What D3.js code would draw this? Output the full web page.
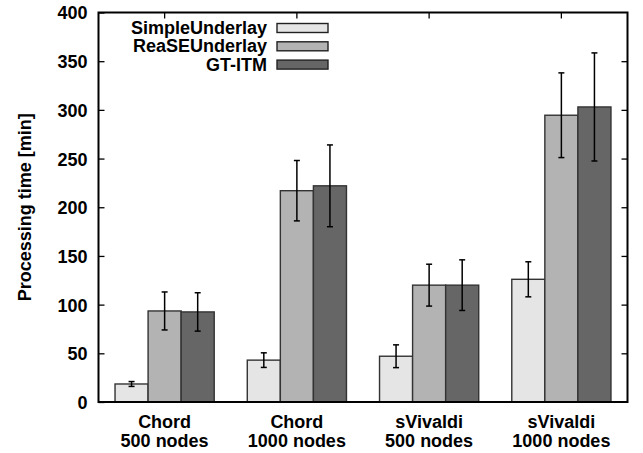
<!DOCTYPE html>
<html>
<head>
<meta charset="utf-8">
<script src="https://cdn.jsdelivr.net/npm/d3@7"></script>
<style>
  body { margin: 0; background: #fff; }
  text { font-family: "Liberation Sans", Arial, Helvetica, sans-serif; font-weight: bold; }
</style>
</head>
<body>
<div class="chart"></div>
<script>

// categories, two lines per label
var categories = ["Chord 500", "Chord 1000", "sVivaldi 500", "sVivaldi 1000"];
var catLine1 = ["Chord", "Chord", "sVivaldi", "sVivaldi"];
var catLine2 = ["500 nodes", "1000 nodes", "500 nodes", "1000 nodes"];

var seriesNames = ["SimpleUnderlay", "ReaSEUnderlay", "GT-ITM"];
var seriesColors = ["#e5e5e5", "#b3b3b3", "#666666"];

// mean processing time [min] and error (+/-)
var simpleVals = [18.5, 43, 47, 126];
var simpleErr = [2.5, 7.5, 11.7, 18];
var reaseVals = [93.5, 217, 120, 294.5];
var reaseErr = [19.5, 31, 21.5, 43.5];
var gtitmVals = [92.5, 222, 120, 303];
var gtitmErr = [19.7, 42, 26, 55.5];

var yTicks = [0, 50, 100, 150, 200, 250, 300, 350, 400];

var allVals = [simpleVals, reaseVals, gtitmVals];
var allErr = [simpleErr, reaseErr, gtitmErr];

var div_width = 643;
var div_height = 453;
var pLeft = 98.5, pRight = 627.5, pTop = 12.5, pBottom = 402;

var svg = d3.select(".chart").append("svg")
    .attr("width", div_width)
    .attr("height", div_height);

var x = d3.scaleBand()
    .domain(categories)
    .range([pLeft, pRight])
    .paddingInner(0.25)
    .paddingOuter(0.125);

var xs = d3.scaleBand()
    .domain(seriesNames)
    .range([0, x.bandwidth()]);

var y = d3.scaleLinear()
    .domain([0, 400])
    .range([pBottom, pTop]);

// bars
for (var s = 0; s < seriesNames.length; s++) {
    var vals = allVals[s];
    var errs = allErr[s];
    svg.append("g").selectAll("rect")
        .data(vals)
        .enter().append("rect")
        .attr("x", function (d, i) { return x(categories[i]) + xs(seriesNames[s]); })
        .attr("y", function (d) { return y(d); })
        .attr("width", xs.bandwidth())
        .attr("height", function (d) { return y(0) - y(d); })
        .attr("fill", seriesColors[s])
        .attr("stroke", "#333")
        .attr("stroke-width", 1.4);

    var eb = svg.append("g").attr("stroke", "#000").attr("stroke-width", 1.5);
    for (var i = 0; i < vals.length; i++) {
        var cx = x(categories[i]) + xs(seriesNames[s]) + xs.bandwidth() / 2;
        var hi = y(vals[i] + errs[i]);
        var lo = y(vals[i] - errs[i]);
        eb.append("line").attr("x1", cx).attr("x2", cx).attr("y1", hi).attr("y2", lo);
        eb.append("line").attr("x1", cx - 3).attr("x2", cx + 3).attr("y1", hi).attr("y2", hi);
        eb.append("line").attr("x1", cx - 3).attr("x2", cx + 3).attr("y1", lo).attr("y2", lo);
    }
}

// y axis left and mirrored on the right
var yAxis = d3.axisLeft(y).tickValues(yTicks).tickSize(-6).tickPadding(11);
var gy = svg.append("g").attr("transform", "translate(" + pLeft + ",0)").call(yAxis);
gy.select(".domain").remove();
gy.selectAll("line").attr("stroke", "#000").attr("stroke-width", 1.3);
gy.selectAll("text").style("font-size", "18px").attr("fill", "#000").attr("dy", "0.36em");

var gy2 = svg.append("g").attr("transform", "translate(" + pRight + ",0)")
    .call(d3.axisRight(y).tickValues(yTicks.slice(1, -1)).tickSize(-6).tickFormat(""));
gy2.select(".domain").remove();
gy2.selectAll("line").attr("stroke", "#000").attr("stroke-width", 1.3);

// top ticks at group centres
var gx2 = svg.append("g").attr("transform", "translate(0," + pTop + ")")
    .call(d3.axisTop(x).tickSize(-6).tickFormat(""));
gx2.select(".domain").remove();
gx2.selectAll("line").attr("stroke", "#000").attr("stroke-width", 1.3);

// border
svg.append("rect")
    .attr("x", pLeft).attr("y", pTop)
    .attr("width", pRight - pLeft).attr("height", pBottom - pTop)
    .attr("fill", "none").attr("stroke", "#000").attr("stroke-width", 2);

// x labels
var gx = svg.append("g");
for (var i = 0; i < categories.length; i++) {
    var cx = x(categories[i]) + x.bandwidth() / 2;
    gx.append("text").attr("x", cx).attr("y", 428).attr("text-anchor", "middle")
        .style("font-size", "18px").text(catLine1[i]);
    gx.append("text").attr("x", cx).attr("y", 447).attr("text-anchor", "middle")
        .style("font-size", "18px").text(catLine2[i]);
}

// y label
svg.append("text")
    .attr("transform", "translate(31," + ((pTop + pBottom) / 2) + ") rotate(-90)")
    .attr("text-anchor", "middle")
    .style("font-size", "18px")
    .text("Processing time [min]");

// legend
var legend = svg.append("g");
for (var s = 0; s < seriesNames.length; s++) {
    var ly = 28 + s * 18.3;
    legend.append("text").attr("x", 267).attr("y", ly + 6)
        .attr("text-anchor", "end").style("font-size", "18px").text(seriesNames[s]);
    legend.append("rect").attr("x", 277).attr("y", ly - 4.5)
        .attr("width", 51).attr("height", 9)
        .attr("fill", seriesColors[s]).attr("stroke", "#222").attr("stroke-width", 1.4);
}

</script>
</body>
</html>
